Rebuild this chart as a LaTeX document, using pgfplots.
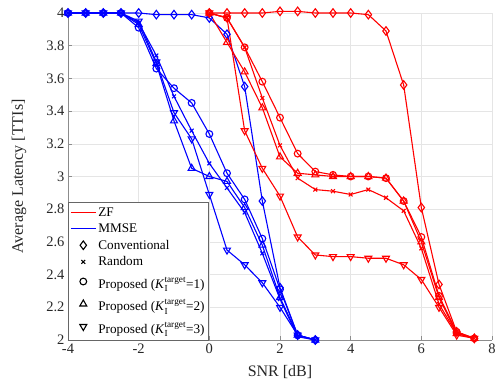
\documentclass[border=0pt]{standalone}
\usepackage{pgfplots}
\pgfplotsset{compat=1.18}
\usepackage{fontspec}
\setmainfont{Liberation Serif}
\usetikzlibrary{calc}
\pgfplotsset{
 lineimg/.style={legend image code/.code={\draw[##1] (0pt,0pt) -- (25pt,0pt);}},
 markimg/.style={legend image code/.code={\draw[##1] plot coordinates {(12.5pt,0pt)};}},
 zf/.style={red, line width=1.1pt, mark options={solid}},
 mm/.style={blue, line width=1.1pt, mark options={solid}},
 mdia/.style={mark=diamond, mark size=4.3},
 mx/.style={mark=x, mark size=2.7},
 mo/.style={mark=o, mark size=3.4},
 mup/.style={mark=triangle, mark size=4},
 mdn/.style={mark=triangle, mark size=4, mark options={solid, rotate=180}},
}
\newcommand{\Kt}[1]{Proposed (\textit{K}$_{\mathrm{I}}^{\raisebox{1.5pt}{$\scriptstyle\mathrm{target}$}}$=#1)\rule[-7pt]{0pt}{22pt}}
\begin{document}
\begin{tikzpicture}
\begin{axis}[
 scale only axis, width=424pt, height=327pt,
 xmin=-4, xmax=8, ymin=2, ymax=4,
 xtick={-4,-2,0,2,4,6,8},
 xticklabels={-4,-2,0,2,4,6,8},
 ytick={2,2.2,2.4,2.6,2.8,3,3.2,3.4,3.6,3.8,4},
 yticklabels={2,2.2,2.4,2.6,2.8,3,3.2,3.4,3.6,3.8,4},
 grid=major, major grid style={black!10, line width=0.5pt},
 axis x line*=bottom, axis y line*=left,
 axis line style={black!45, line width=0.5pt},
 tick style={black!45, line width=0.5pt}, major tick length=4pt,
 /pgf/number format/assume math mode=true,
 tick label style={font=\fontsize{14.5}{16}\selectfont, text=black!85},
 label style={font=\fontsize{16}{18}\selectfont, text=black!85},
 xlabel={SNR [dB]}, ylabel={Average Latency [TTIs]},
 xlabel style={at={(axis description cs:0.5,-0.098)}, anchor=center},
 ylabel style={at={(axis description cs:-0.1156,0.5)}, anchor=center, rotate=0},
 clip=false,
 legend cell align=left,
 legend style={font=\fontsize{13.2}{15}\selectfont, at={(axis description cs:0,0)}, anchor=south west, draw=black!60, line width=0.5pt, inner xsep=2pt, inner ysep=3pt, fill=white, text=black, row sep=2pt},
]
\addlegendimage{lineimg, draw=red, color=red, line width=1.1pt}\addlegendentry{ZF}
\addlegendimage{lineimg, draw=blue, color=blue, line width=1.1pt}\addlegendentry{MMSE}
\addlegendimage{markimg, black, line width=1.1pt, mdia}\addlegendentry{Conventional}
\addlegendimage{markimg, black, line width=1.1pt, mx}\addlegendentry{Random}
\addlegendimage{markimg, black, line width=1.1pt, mo}\addlegendentry{\Kt{1}}
\addlegendimage{markimg, black, line width=1.1pt, mup}\addlegendentry{\Kt{2}}
\addlegendimage{markimg, black, line width=1.1pt, mdn}\addlegendentry{\Kt{3}}

% MMSE
\addplot[mm, mdia, forget plot] coordinates {(-4,4) (-3.5,4) (-3,4) (-2.5,4) (-2,4.0) (-1.5,3.99) (-1,3.99) (-0.5,3.99) (0,3.97) (0.5,3.87) (1,3.55) (1.5,2.85) (2,2.32) (2.5,2.03) (3,2.0)};
\addplot[mm, mo, forget plot] coordinates {(-4,4) (-3.5,4) (-3,4) (-2.5,4) (-2,3.91) (-1.5,3.66) (-1,3.54) (-0.5,3.45) (0,3.26) (0.5,3.02) (1,2.86) (1.5,2.62) (2,2.31) (2.5,2.03) (3,2.0)};
\addplot[mm, mx, forget plot] coordinates {(-4,4) (-3.5,4) (-3,4) (-2.5,4) (-2,3.94) (-1.5,3.74) (-1,3.49) (-0.5,3.28) (0,3.08) (0.5,2.93) (1,2.78) (1.5,2.53) (2,2.25) (2.5,2.02) (3,2.0)};
\addplot[mm, mup, forget plot] coordinates {(-4,4) (-3.5,4) (-3,4) (-2.5,4) (-2,3.93) (-1.5,3.69) (-1,3.34) (-0.5,3.05) (0,3.0) (0.5,2.97) (1,2.81) (1.5,2.58) (2,2.26) (2.5,2.03) (3,2.0)};
\addplot[mm, mdn, forget plot] coordinates {(-4,4) (-3.5,4) (-3,4) (-2.5,4) (-2,3.95) (-1.5,3.70) (-1,3.39) (-0.5,3.23) (0,2.89) (0.5,2.55) (1,2.46) (1.5,2.35) (2,2.20) (2.5,2.03) (3,2.0)};
% ZF
\addplot[zf, mdia, forget plot] coordinates {(0,4) (0.5,4) (1,4) (1.5,4) (2,4.01) (2.5,4.01) (3,4.0) (3.5,4.0) (4,4.0) (4.5,3.99) (5,3.89) (5.5,3.56) (6,2.81) (6.5,2.34) (7,2.05) (7.5,2.01)};
\addplot[zf, mo, forget plot] coordinates {(0,4) (0.5,3.97) (1,3.79) (1.5,3.58) (2,3.36) (2.5,3.14) (3,3.03) (3.5,3.01) (4,3.0) (4.5,3.0) (5,2.99) (5.5,2.85) (6,2.63) (6.5,2.27) (7,2.05) (7.5,2.01)};
\addplot[zf, mup, forget plot] coordinates {(0,4) (0.5,3.82) (1,3.64) (1.5,3.42) (2,3.12) (2.5,3.02) (3,3.01) (3.5,3.0) (4,3.0) (4.5,3.0) (5,2.99) (5.5,2.85) (6,2.60) (6.5,2.26) (7,2.04) (7.5,2.01)};
\addplot[zf, mx, forget plot] coordinates {(0,4) (0.5,3.97) (1,3.79) (1.5,3.48) (2,3.19) (2.5,2.99) (3,2.92) (3.5,2.91) (4,2.89) (4.5,2.92) (5,2.87) (5.5,2.79) (6,2.56) (6.5,2.22) (7,2.04) (7.5,2.01)};
\addplot[zf, mdn, forget plot] coordinates {(0,4) (0.5,3.97) (1,3.28) (1.5,3.05) (2,2.88) (2.5,2.63) (3,2.52) (3.5,2.51) (4,2.51) (4.5,2.50) (5,2.50) (5.5,2.46) (6,2.37) (6.5,2.20) (7,2.03) (7.5,2.01)};
\coordinate (sw) at (rel axis cs:0,0);
\coordinate (ne) at (rel axis cs:1,1);
\end{axis}
\pgfresetboundingbox
\path ($(sw)+(-68pt,-46pt)$) rectangle ($(ne)+(4pt,13pt)$);
\end{tikzpicture}
\end{document}
